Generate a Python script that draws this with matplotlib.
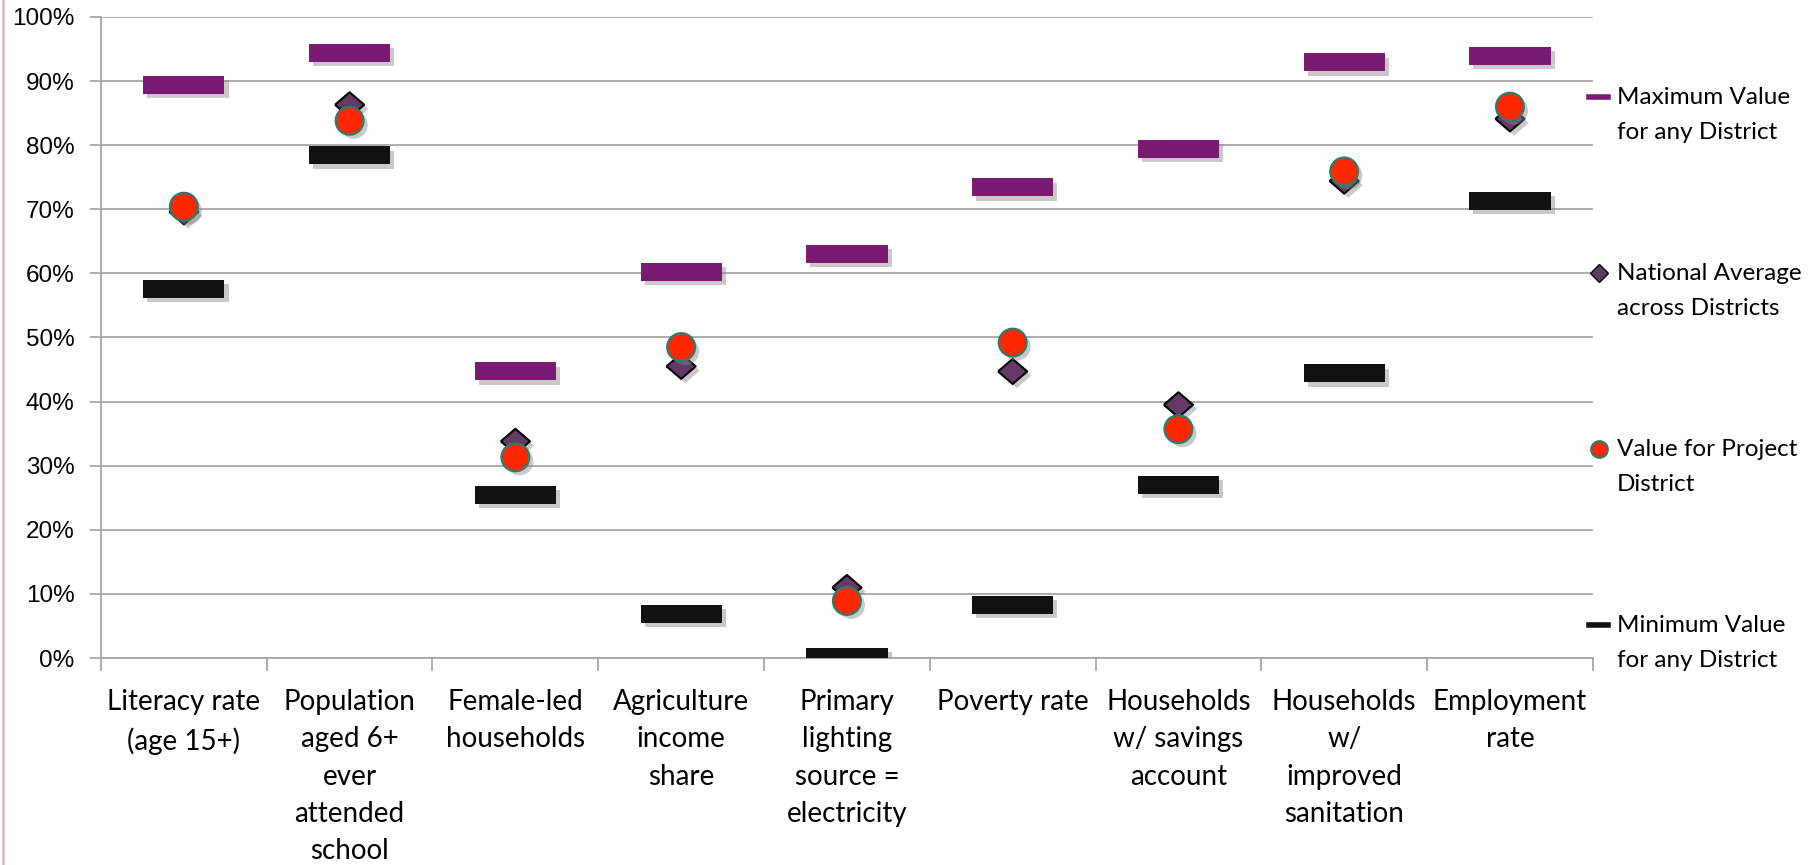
import matplotlib.pyplot as plt
import matplotlib.patheffects as pe
from matplotlib.lines import Line2D

categories = ['Literacy rate\n(age 15+)', 'Population\naged 6+\never\nattended\nschool',
              'Female-led\nhouseholds', 'Agriculture\nincome\nshare',
              'Primary\nlighting\nsource =\nelectricity', 'Poverty rate',
              'Households\nw/ savings\naccount', 'Households\nw/\nimproved\nsanitation',
              'Employment\nrate']
max_val = [89.4, 94.4, 44.7, 60.2, 63.0, 73.4, 79.4, 92.9, 93.9]
nat_avg = [69.6, 86.3, 33.8, 45.5, 11.0, 44.7, 39.5, 74.4, 84.1]
project = [70.4, 83.8, 31.3, 48.5, 8.9, 49.2, 35.7, 75.9, 86.0]
min_val = [57.6, 78.4, 25.5, 6.9, 0.2, 8.3, 27.0, 44.4, 71.3]

purple = '#7A1B73'
diamond_col = '#633A66'
red = '#FF2600'
teal = '#2D7B70'
grid_col = '#A6A6A6'
text_font = ['Lato', 'DejaVu Sans']

fig = plt.figure(figsize=(18.16, 8.65), dpi=100)
ax = fig.add_axes([0.0556, 0.2393, 0.8215, 0.7411])

x = list(range(len(categories)))
bar_h = 2.8
shadow = [pe.withSimplePatchShadow(offset=(3, -3), shadow_rgbFace='#888888', alpha=0.45)]

ax.bar(x, bar_h, bottom=[v - bar_h / 2 for v in max_val], width=0.49, color=purple,
       zorder=3, path_effects=shadow)
ax.bar(x, bar_h, bottom=[v - bar_h / 2 for v in min_val], width=0.49, color='#111111',
       zorder=3, path_effects=shadow)
diamond = [(-1, 0), (0, 0.86), (1, 0), (0, -0.86), (-1, 0)]
ax.plot(x, nat_avg, linestyle='none', marker=diamond, markersize=21, color=diamond_col,
        markeredgecolor='black', markeredgewidth=1.5, zorder=4, path_effects=shadow)
ax.plot(x, project, linestyle='none', marker='o', markersize=20, color=red,
        markeredgecolor=teal, markeredgewidth=1.6, zorder=5, path_effects=shadow)

ax.set_xlim(-0.5, len(categories) - 0.5)
ax.set_ylim(0, 100)
ax.set_yticks(range(0, 101, 10))
ax.set_yticklabels(['%d%%' % v for v in range(0, 101, 10)], fontsize=17.5,
                   family=['Liberation Sans', 'DejaVu Sans'])
ax.yaxis.grid(True, color=grid_col, linewidth=1.3)
ax.set_axisbelow(True)

ax.set_xticks(x)
ax.set_xticklabels(categories, fontsize=20, family=text_font, linespacing=1.53, va='top')
ax.set_xticks([i - 0.5 for i in range(len(categories) + 1)], minor=True)
ax.tick_params(axis='x', which='major', length=0, pad=22.5)
ax.tick_params(axis='x', which='minor', length=9, width=1.3, color=grid_col)
ax.tick_params(axis='y', length=8, width=1.3, color=grid_col, pad=11)

for side in ['top', 'right']:
    ax.spines[side].set_visible(False)
for side in ['left', 'bottom']:
    ax.spines[side].set_color(grid_col)
    ax.spines[side].set_linewidth(1.3)

handles = [
    Line2D([], [], color=purple, linewidth=4),
    Line2D([], [], linestyle='none', marker='D', markersize=9, color=diamond_col,
           markeredgecolor='black', markeredgewidth=1),
    Line2D([], [], linestyle='none', marker='o', markersize=12, color=red,
           markeredgecolor=teal, markeredgewidth=1.5),
    Line2D([], [], color='#111111', linewidth=4),
]
labels = ['\nMaximum Value\nfor any District', '\nNational Average\nacross Districts',
          '\nValue for Project\nDistrict', '\nMinimum Value\nfor any District']
leg = fig.legend(handles, labels, loc='upper left', bbox_to_anchor=(0.8627, 0.966),
                 frameon=False, prop={'family': text_font, 'size': 17.5},
                 handlelength=0.82, handletextpad=0.35, labelspacing=3.46)
for t in leg.get_texts():
    t.set_linespacing(1.85)

fig.add_artist(Line2D([0.0015, 0.0015], [0, 1], transform=fig.transFigure,
                      color='#D9BFBF', linewidth=2))

fig.savefig('out.png', dpi=100)
